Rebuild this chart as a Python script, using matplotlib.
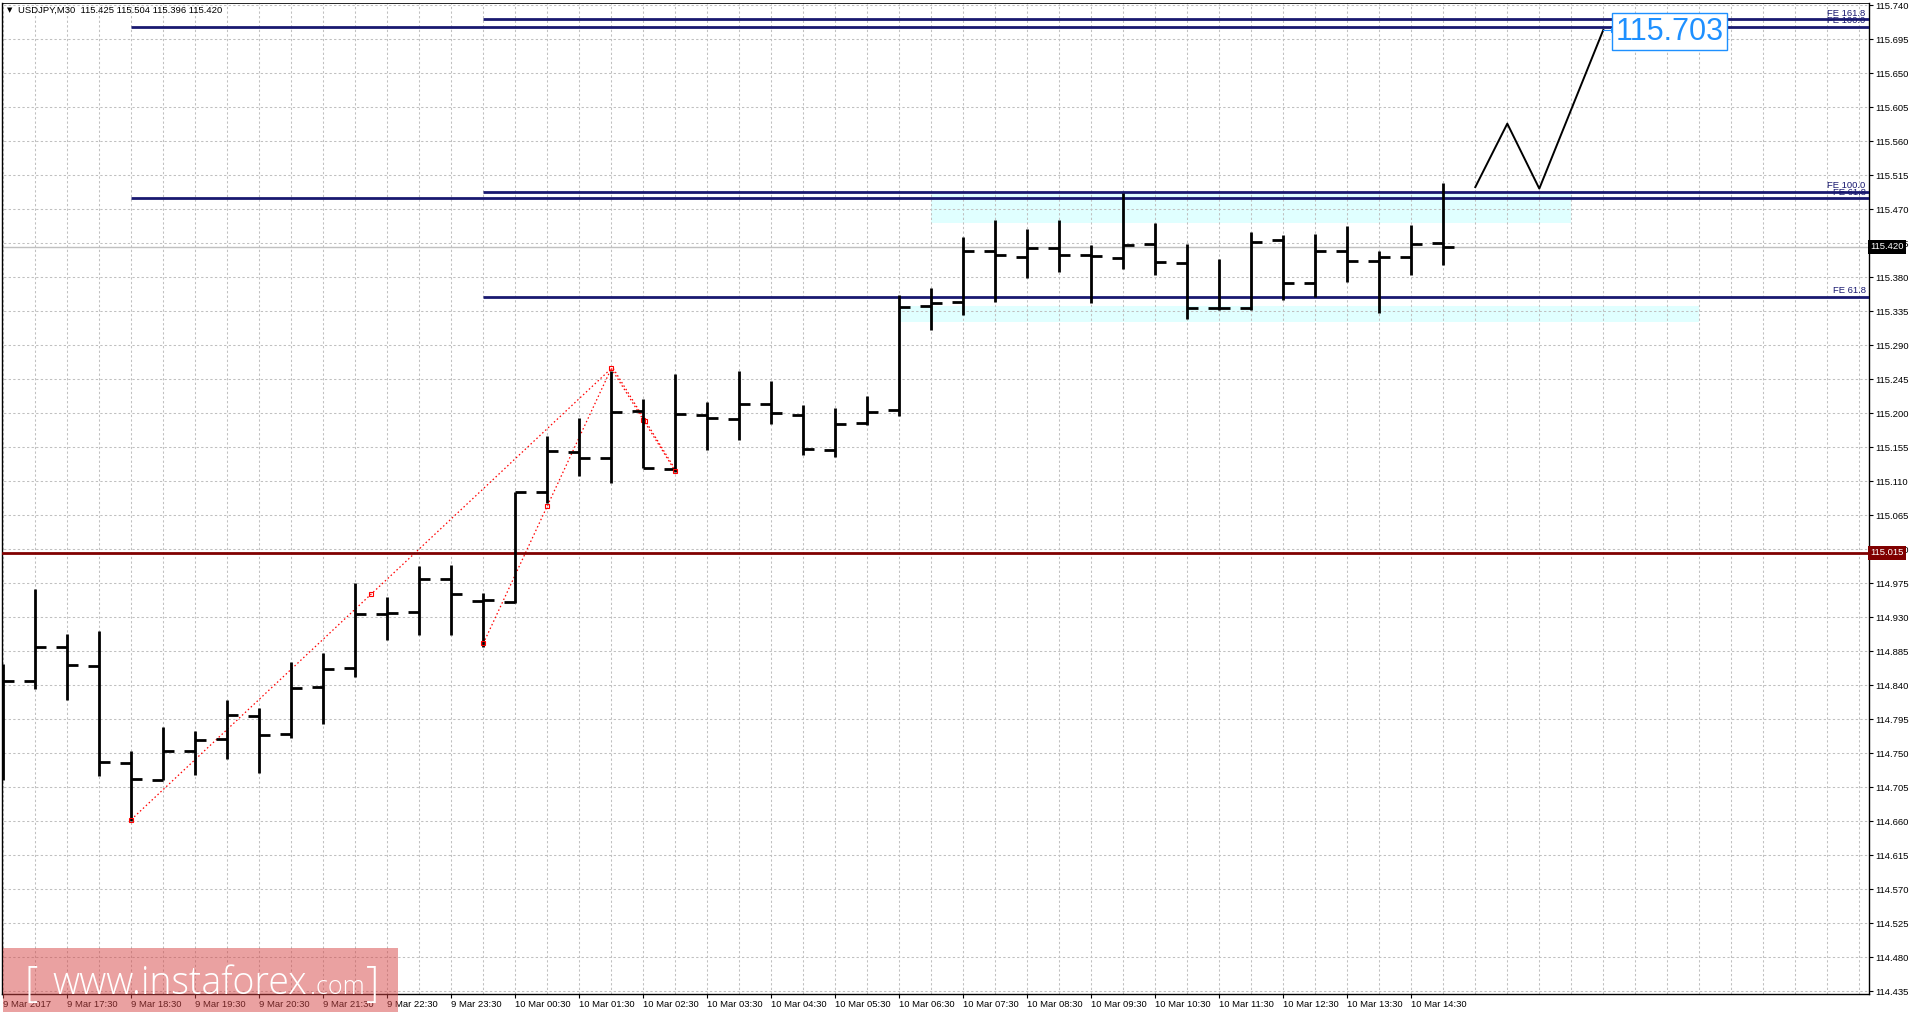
"""USDJPY M30 bar chart with Fibonacci expansion levels, MT4 style."""

import matplotlib
matplotlib.use("Agg")
import matplotlib.pyplot as plt
from matplotlib.patches import Rectangle
from matplotlib.transforms import blended_transform_factory

W, H, DPI = 1912, 1016, 100

# ---- values ----
symbol_header = "USDJPY,M30  115.425 115.504 115.396 115.420"

opens = [114.760, 114.845, 114.890, 114.865, 114.737, 114.714, 114.753, 114.768,
         114.799, 114.775, 114.838, 114.862, 114.934, 114.937, 114.980, 114.951,
         114.950, 115.096, 115.148, 115.141, 115.203, 115.126, 115.197, 115.192,
         115.212, 115.198, 115.151, 115.187, 115.204, 115.342, 115.347, 115.415,
         115.407, 115.418, 115.409, 115.405, 115.424, 115.399, 115.339, 115.339,
         115.429, 115.372, 115.415, 115.401, 115.407, 115.425]
highs = [114.868, 114.967, 114.907, 114.911, 114.753, 114.785, 114.779, 114.820,
         114.809, 114.871, 114.883, 114.975, 114.956, 114.998, 114.999, 114.962,
         115.096, 115.170, 115.194, 115.256, 115.219, 115.252, 115.215, 115.256,
         115.243, 115.211, 115.207, 115.223, 115.356, 115.365, 115.433, 115.456,
         115.443, 115.456, 115.423, 115.491, 115.451, 115.424, 115.404, 115.440,
         115.435, 115.437, 115.447, 115.414, 115.449, 115.504]
lows = [114.714, 114.835, 114.820, 114.719, 114.660, 114.714, 114.721, 114.742,
        114.723, 114.770, 114.788, 114.851, 114.900, 114.906, 114.906, 114.891,
        114.949, 115.081, 115.117, 115.107, 115.127, 115.122, 115.151, 115.164,
        115.185, 115.144, 115.142, 115.184, 115.196, 115.310, 115.330, 115.347,
        115.379, 115.387, 115.346, 115.391, 115.383, 115.324, 115.336, 115.336,
        115.350, 115.354, 115.373, 115.332, 115.383, 115.396]
closes = [114.845, 114.890, 114.866, 114.738, 114.715, 114.753, 114.767, 114.800,
          114.774, 114.836, 114.861, 114.934, 114.935, 114.980, 114.960, 114.952,
          115.095, 115.150, 115.140, 115.201, 115.127, 115.199, 115.194, 115.212,
          115.200, 115.152, 115.185, 115.202, 115.340, 115.345, 115.415, 115.409,
          115.418, 115.409, 115.408, 115.422, 115.400, 115.339, 115.339, 115.427,
          115.372, 115.415, 115.401, 115.407, 115.424, 115.420]

time_labels = ["9 Mar 2017", "9 Mar 17:30", "9 Mar 18:30", "9 Mar 19:30",
               "9 Mar 20:30", "9 Mar 21:30", "9 Mar 22:30", "9 Mar 23:30",
               "10 Mar 00:30", "10 Mar 01:30", "10 Mar 02:30", "10 Mar 03:30",
               "10 Mar 04:30", "10 Mar 05:30", "10 Mar 06:30", "10 Mar 07:30",
               "10 Mar 08:30", "10 Mar 09:30", "10 Mar 10:30", "10 Mar 11:30",
               "10 Mar 12:30", "10 Mar 13:30", "10 Mar 14:30"]
label_bars = list(range(0, 46, 2))

price_ticks = [round(115.740 - 0.045 * k, 3) for k in range(30)]

# Fibonacci expansion levels: first bar, price, caption
fe_starts = [15, 4, 15, 4, 15]
fe_prices = [115.721, 115.711, 115.493, 115.484, 115.354]
fe_labels = ["FE 161.8", "FE 100.0", "FE 100.0", "FE 61.8", "FE 61.8"]

support_price = 115.015
bid_price = 115.420

# highlighted zones
zone_x0 = [29, 28]
zone_x1 = [49, 53]
zone_lo = [115.452, 115.320]
zone_hi = [115.490, 115.341]

# swing points A, B, C, D of the expansion tool
swing_bars = [4, 15, 19, 21]
swing_prices = [114.662, 114.895, 115.259, 115.123]

# projected path and target
proj_bars = [46, 47, 48, 50]
proj_prices = [115.499, 115.583, 115.497, 115.707]
target_label = "115.703"

NAVY = "#191970"
FONT = ["Liberation Sans", "DejaVu Sans"]
plt.rcParams["font.family"] = FONT

fig = plt.figure(figsize=(W / DPI, H / DPI), dpi=DPI)
fig.patch.set_facecolor("white")

# pixel layout: plot from x=2..1869, y=3..994 (from top)
ax = fig.add_axes([2 / W, 22 / H, 1867 / W, 991 / H])
ax.set_xlim((2 - 3.3) / 32, (1869 - 3.3) / 32)
ax.set_ylim(115.740 - 989 / 755.6, 115.740 + 2 / 755.6)

# grid
dash = (0, (2.2, 2.2))
ax.vlines(range(0, 59), 114.0, 116.0, colors="#c0c0c0", lw=0.75,
          linestyles=[dash], zorder=1)
ax.hlines(price_ticks, -1, 60, colors="#c0c0c0", lw=0.75,
          linestyles=[dash], zorder=1)

# zones
for x0, x1, lo, hi in zip(zone_x0, zone_x1, zone_lo, zone_hi):
    ax.add_patch(Rectangle((x0, lo), x1 - x0, hi - lo, fc="#e0ffff",
                           ec="none", zorder=0.5))

# support / bid lines
ax.axhline(support_price, color="#800000", lw=2, zorder=4)
ax.axhline(bid_price, color="#c0c0c0", lw=1, zorder=2)

# Fibonacci expansion levels
xmax = ax.get_xlim()[1]
for s, p, lab in zip(fe_starts, fe_prices, fe_labels):
    ax.hlines(p, s, xmax, colors=NAVY, lw=2, zorder=4)
    ax.text(58.2, p + 0.0022, lab, ha="right", va="bottom", fontsize=6.8,
            color=NAVY, zorder=3)

# dotted swing lines
ax_, bx_, cx_, dx_ = swing_bars
ay, by, cy, dy = swing_prices
dot = (0, (1.2, 2.0))
for xs, ys in [([ax_, cx_], [ay, cy]), ([bx_, cx_], [by, cy]),
               ([cx_, dx_], [cy, dy]), ([cx_ + 0.06, dx_ + 0.06], [cy, dy - 0.002])]:
    ax.plot(xs, ys, color="red", lw=0.9, ls=dot, zorder=3)
    ax.plot([(xs[0] + xs[1]) / 2], [(ys[0] + ys[1]) / 2], marker="s", ms=3,
            mfc="none", mec="red", mew=0.8, zorder=3)
ax.plot(swing_bars, swing_prices, ls="none", marker="s", ms=3.5, mfc="none",
        mec="red", mew=0.8, zorder=6)

# OHLC bars
idx = list(range(len(opens)))
tick = 0.34
ax.vlines(idx, lows, highs, colors="black", lw=2, zorder=5, capstyle="butt")
ax.hlines(opens, [i - tick for i in idx], idx, colors="black", lw=2, zorder=5,
          capstyle="butt")
ax.hlines(closes, idx, [i + tick for i in idx], colors="black", lw=2, zorder=5,
          capstyle="butt")

# projected path
ax.plot(proj_bars, proj_prices, color="black", lw=1.4, zorder=5)
ax.plot([proj_bars[-1], proj_bars[-1] + 0.3], [proj_prices[-1]] * 2,
        color="#1e90ff", lw=0.8, zorder=5)
ax.plot([proj_bars[-1] + 0.3], [proj_prices[-1]], marker="s", ms=2.5,
        mfc="white", mec="#1e90ff", mew=0.8, zorder=6)
ax.text(50.38, 115.7047, target_label, fontsize=22, color="#1e90ff",
        ha="left", va="center", zorder=7,
        bbox=dict(boxstyle="square,pad=0.12", fc="white", ec="#1e90ff", lw=1))

# axes styling
for sp in ax.spines.values():
    sp.set_color("black")
    sp.set_linewidth(1)
ax.spines["top"].set_linewidth(0.6)

ax.yaxis.tick_right()
ax.set_yticks(price_ticks)
ax.set_yticklabels([f"{p:.3f}" for p in price_ticks])
ax.tick_params(axis="y", length=3, width=0.8, labelsize=6.8, pad=1.5,
               colors="black")
ax.set_xticks(label_bars)
ax.set_xticklabels(time_labels)
ax.tick_params(axis="x", length=3, width=0.8, labelsize=6.8, pad=1.5)
for lbl in ax.get_xticklabels():
    lbl.set_ha("left")

# price boxes on the right scale
tr = blended_transform_factory(ax.transAxes, ax.transData)
for p, fc in [(bid_price, "black"), (support_price, "#800000")]:
    ax.text(1.0008, p, f"{p:.3f}", transform=tr, ha="left", va="center",
            fontsize=6.8, color="white", zorder=10, clip_on=False,
            bbox=dict(boxstyle="square,pad=0.25", fc=fc, ec="none"))

# header
fig.text(7 / W, 1 - 10.5 / H, "\u25bc", fontsize=5, va="center", ha="left",
         family="DejaVu Sans")
fig.text(18 / W, 1 - 10.5 / H, symbol_header, fontsize=6.8, va="center",
         ha="left")

# watermark
fig.patches.append(Rectangle((3 / W, 4 / H), 395 / W, 64 / H,
                             transform=fig.transFigure, fc="#d64545",
                             alpha=0.5, ec="none", zorder=5))
wm = dict(color="white", family=["Open Sans", "DejaVu Sans"], zorder=6)
fig.text(24 / W, 31 / H, "[", fontsize=30, va="center", ha="left",
         fontweight="light", **wm)
fig.text(52 / W, 22 / H, "www.instaforex", fontsize=27, va="baseline",
         ha="left", fontweight="light", **wm)
fig.text(310 / W, 22 / H, ".com", fontsize=18, va="baseline", ha="left",
         fontweight="light", **wm)
fig.text(366 / W, 31 / H, "]", fontsize=30, va="center", ha="left",
         fontweight="light", **wm)

fig.savefig("out.png", dpi=DPI)
